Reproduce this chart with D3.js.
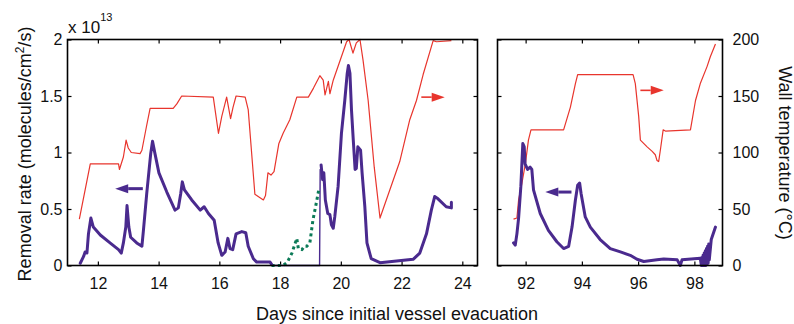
<!DOCTYPE html>
<html>
<head>
<meta charset="utf-8">
<script src="https://cdn.jsdelivr.net/npm/d3@7"></script>
<style>
  body { margin: 0; background: #fff; }
  svg { font-family: "Liberation Sans", Arial, sans-serif; }
</style>
</head>
<body>
<svg id="chart" width="794" height="324"></svg>
<script>
// Wall temperature (°C), first campaign (days 11-24)
const tempLeft = [
    [11.39, 41], [11.75, 90], [12.68, 90], [12.71, 85], [12.84, 96], [12.93, 111],
    [13.0, 104], [13.1, 100], [13.39, 99], [13.45, 102], [13.6, 123], [13.72, 139],
    [14.48, 139], [14.6, 143], [14.76, 150], [15.8, 149], [15.97, 117], [16.08, 132],
    [16.24, 149], [16.37, 130], [16.45, 140], [16.55, 150], [16.85, 149], [16.95, 138],
    [17.17, 63], [17.34, 60], [17.45, 58], [17.52, 62], [17.6, 82], [17.7, 80],
    [17.8, 83], [17.96, 108], [18.1, 117], [18.32, 129], [18.55, 149], [18.93, 149],
    [19.1, 157], [19.31, 168], [19.42, 164], [19.48, 151], [19.59, 163], [19.64, 152],
    [19.75, 164], [20.19, 198], [20.27, 200], [20.4, 188], [20.51, 197], [20.63, 200],
    [20.73, 182], [20.9, 146], [21.1, 87], [21.29, 42], [21.94, 92], [22.27, 129],
    [22.49, 146], [22.71, 169], [23.04, 199], [23.15, 198], [23.64, 199]
];

// Removal rate (x 1e13 molecules/cm2/s), first campaign
const rateLeftA = [
    [11.42, 0.02], [11.53, 0.08], [11.58, 0.12], [11.64, 0.11], [11.69, 0.28], [11.77, 0.42],
    [11.85, 0.34], [12.08, 0.27], [12.4, 0.2], [12.68, 0.14], [12.77, 0.11], [12.84, 0.2],
    [12.92, 0.34], [12.96, 0.53], [13.02, 0.34], [13.08, 0.25], [13.28, 0.2], [13.45, 0.17],
    [13.5, 0.31], [13.61, 0.64], [13.74, 0.99], [13.8, 1.1], [13.88, 0.99], [14.01, 0.82],
    [14.27, 0.65], [14.54, 0.49], [14.65, 0.51], [14.73, 0.64], [14.78, 0.74], [14.85, 0.67],
    [15.09, 0.58], [15.37, 0.49], [15.5, 0.52], [15.64, 0.46], [15.83, 0.4], [15.96, 0.2],
    [16.08, 0.09], [16.19, 0.12], [16.28, 0.24], [16.35, 0.15], [16.44, 0.14], [16.55, 0.28],
    [16.74, 0.3], [16.87, 0.29], [16.95, 0.17], [17.12, 0.06], [17.23, 0.03], [17.67, 0.03],
    [17.72, 0.01]
];
const rateGap = [[17.72, 0.0], [19.3, 0.0], [19.32, 0.85]];
const rateLeftB = [
    [19.35, 0.89], [19.4, 0.76], [19.44, 0.82], [19.49, 0.58], [19.57, 0.46], [19.64, 0.45],
    [19.69, 0.36], [19.75, 0.33], [19.8, 0.43], [19.91, 0.7], [20.02, 1.17], [20.13, 1.46],
    [20.21, 1.7], [20.25, 1.77], [20.3, 1.7], [20.35, 1.38], [20.41, 1.11], [20.47, 0.85],
    [20.51, 0.86], [20.56, 1.05], [20.65, 1.02], [20.7, 0.82], [20.79, 0.52], [20.86, 0.2],
    [21.0, 0.06], [21.29, 0.025], [22.38, 0.055], [22.6, 0.11], [22.82, 0.28], [22.98, 0.49],
    [23.09, 0.61], [23.2, 0.59], [23.47, 0.52], [23.64, 0.51], [23.64, 0.56]
];

// Dotted green series
const rateGreen = [
    [17.72, 0], [18.1, 0], [18.24, 0.03], [18.39, 0.11], [18.55, 0.24], [18.6, 0.15],
    [18.72, 0.14], [18.8, 0.17], [18.88, 0.17], [18.98, 0.2], [19.08, 0.4], [19.19, 0.55],
    [19.28, 0.68]
];

// Second campaign (days 91-99)
const tempRight = [
    [91.57, 41], [91.69, 42], [91.75, 58], [91.87, 73], [91.99, 90], [92.1, 111],
    [92.19, 120], [93.35, 120], [93.59, 140], [93.77, 161], [93.85, 169], [95.82, 169],
    [95.9, 161], [96.02, 132], [96.08, 111], [96.32, 105], [96.5, 101], [96.61, 98],
    [96.67, 93], [96.73, 92], [96.79, 102], [96.89, 120], [96.97, 119], [97.86, 120],
    [98.04, 146], [98.21, 161], [98.45, 176], [98.57, 185], [98.75, 196]
];
const rateRight = [
    [91.57, 0.2], [91.63, 0.18], [91.69, 0.28], [91.75, 0.42], [91.83, 0.7], [91.9, 1.08],
    [91.95, 1.05], [91.98, 0.9], [92.07, 0.85], [92.16, 0.87], [92.22, 0.85], [92.28, 0.67],
    [92.52, 0.46], [92.81, 0.31], [93.11, 0.21], [93.35, 0.15], [93.53, 0.17], [93.65, 0.34],
    [93.77, 0.58], [93.85, 0.71], [93.92, 0.73], [93.97, 0.64], [94.12, 0.43], [94.3, 0.34],
    [94.65, 0.23], [95.01, 0.15], [95.37, 0.12], [95.72, 0.09], [95.96, 0.055], [96.2, 0.035],
    [96.67, 0.05], [96.91, 0.057], [97.39, 0.05], [97.5, 0.0], [97.56, 0.05], [98.21, 0.064],
    [98.25, 0.0], [98.27, 0.07], [98.29, 0.0], [98.31, 0.09], [98.33, 0.0], [98.35, 0.11],
    [98.37, 0.0], [98.39, 0.13], [98.41, 0.0], [98.43, 0.15], [98.45, 0.01], [98.47, 0.17],
    [98.49, 0.02], [98.51, 0.19], [98.53, 0.05], [98.6, 0.23], [98.75, 0.34]
];

// Ticks
const leftDayTicks = [12, 14, 16, 18, 20, 22, 24];
const rightDayTicks = [92, 94, 96, 98];
const rateTicks = [0, 0.5, 1, 1.5, 2];
const tempTicks = [0, 50, 100, 150, 200];

// Direction arrows, drawn from "from" towards "to"
const arrowsLeft = [
    { from: 13.48, to: 12.57, y: 0.68, axis: "rate" },
    { from: 22.65, to: 23.42, y: 149, axis: "temp" }
];
const arrowsRight = [
    { from: 93.63, to: 92.7, y: 0.65, axis: "rate" },
    { from: 96.08, to: 96.91, y: 155, axis: "temp" }
];

const RED = "#e8352d";
const BLUE = "#4a2a8e";
const GREEN = "#0b7a57";

const svg = d3.select("#chart");
const plotTop = 39.5, plotBottom = 265.5;

const xL = d3.scaleLinear().domain([11, 24.5]).range([67.5, 477.5]);
const xR = d3.scaleLinear().domain([91, 99]).range([497.5, 722.5]);
const yRate = d3.scaleLinear().domain([0, 2]).range([plotBottom, plotTop]);
const yTemp = d3.scaleLinear().domain([0, 200]).range([plotBottom, plotTop]);

function styleAxis(g) {
    g.select(".domain").remove();
    g.selectAll("line").attr("stroke", "#000").attr("stroke-width", 1.2);
    g.selectAll("text").attr("font-size", 16).attr("fill", "#111")
        .attr("font-family", "Liberation Sans, Arial, sans-serif");
}

function drawPanel(x, ticks, temps, rates, arrows) {
    const [x0, x1] = x.range();

    // bottom + mirrored top ticks
    svg.append("g").attr("transform", `translate(0,${plotBottom})`)
        .call(d3.axisBottom(x).tickValues(ticks).tickSize(-4).tickPadding(12))
        .call(styleAxis);
    svg.append("g").attr("transform", `translate(0,${plotTop})`)
        .call(d3.axisTop(x).tickValues(ticks).tickSize(-4).tickFormat(""))
        .call(styleAxis);
    // inner side ticks on both edges
    svg.append("g").attr("transform", `translate(${x0},0)`)
        .call(d3.axisLeft(yTemp).tickValues(tempTicks).tickSize(-4).tickFormat(""))
        .call(styleAxis);
    svg.append("g").attr("transform", `translate(${x1},0)`)
        .call(d3.axisRight(yTemp).tickValues(tempTicks).tickSize(-4).tickFormat(""))
        .call(styleAxis);

    const lineT = d3.line().x(d => x(d[0])).y(d => yTemp(d[1]));
    const lineR = d3.line().x(d => x(d[0])).y(d => yRate(d[1]));

    svg.append("path").datum(temps).attr("d", lineT)
        .attr("fill", "none").attr("stroke", RED).attr("stroke-width", 1.2)
        .attr("stroke-linejoin", "round");

    rates.forEach(r => {
        svg.append("path").datum(r.data).attr("d", lineR)
            .attr("fill", "none").attr("stroke", r.color)
            .attr("stroke-width", r.width)
            .attr("stroke-dasharray", r.dash || null)
            .attr("stroke-linejoin", "round").attr("stroke-linecap", r.dash ? "butt" : "round");
    });

    arrows.forEach(a => {
        const ys = a.axis === "rate" ? yRate : yTemp;
        const col = a.axis === "rate" ? BLUE : RED;
        const ax0 = x(a.from), ax1 = x(a.to), ay = ys(a.y);
        const dir = Math.sign(ax1 - ax0);
        const head = 13, hw = 4.5;
        svg.append("line")
            .attr("x1", ax0).attr("y1", ay).attr("x2", ax1 - dir * head).attr("y2", ay)
            .attr("stroke", col).attr("stroke-width", a.axis === "rate" ? 3 : 1.6);
        svg.append("path")
            .attr("d", `M${ax1},${ay}L${ax1 - dir * head},${ay - hw}L${ax1 - dir * head},${ay + hw}Z`)
            .attr("fill", col);
    });

    // frame
    svg.append("rect").attr("x", x0).attr("y", plotTop)
        .attr("width", x1 - x0).attr("height", plotBottom - plotTop)
        .attr("fill", "none").attr("stroke", "#000").attr("stroke-width", 1.6);
}

drawPanel(xL, leftDayTicks, tempLeft, [
    { data: rateGap, color: BLUE, width: 1.4 },
    { data: rateGreen, color: GREEN, width: 3, dash: "3,3.2" },
    { data: rateLeftA, color: BLUE, width: 3 },
    { data: rateLeftB, color: BLUE, width: 3 }
], arrowsLeft);

drawPanel(xR, rightDayTicks, tempRight, [
    { data: rateRight, color: BLUE, width: 3 }
], arrowsRight);

// left value labels
svg.append("g").attr("transform", `translate(${xL.range()[0]},0)`)
    .call(d3.axisLeft(yRate).tickValues(rateTicks).tickSize(0).tickPadding(5)
        .tickFormat(d => String(d)))
    .call(styleAxis);
// right value labels
svg.append("g").attr("transform", `translate(${xR.range()[1]},0)`)
    .call(d3.axisRight(yTemp).tickValues(tempTicks).tickSize(0).tickPadding(10))
    .call(styleAxis);

// x 10^13 multiplier
const mult = svg.append("text").attr("x", 68).attr("y", 33)
    .attr("font-size", 17).attr("fill", "#111");
mult.append("tspan").text("x 10");
mult.append("tspan").attr("dy", -12).attr("font-size", 11).text("13");

// axis titles
svg.append("text").attr("x", 397).attr("y", 320).attr("text-anchor", "middle")
    .attr("font-size", 18).attr("fill", "#111")
    .text("Days since initial vessel evacuation");

const yl = svg.append("text")
    .attr("transform", "translate(30.5,154) rotate(-90)")
    .attr("text-anchor", "middle").attr("font-size", 18).attr("fill", "#111");
yl.append("tspan").text("Removal rate (molecules/cm");
yl.append("tspan").attr("dy", -7).attr("font-size", 12).text("2");
yl.append("tspan").attr("dy", 7).text("/s)");

svg.append("text")
    .attr("transform", "translate(778.5,153) rotate(90)")
    .attr("text-anchor", "middle").attr("font-size", 18).attr("fill", "#111")
    .text("Wall temperature (°C)");
</script>
</body>
</html>
